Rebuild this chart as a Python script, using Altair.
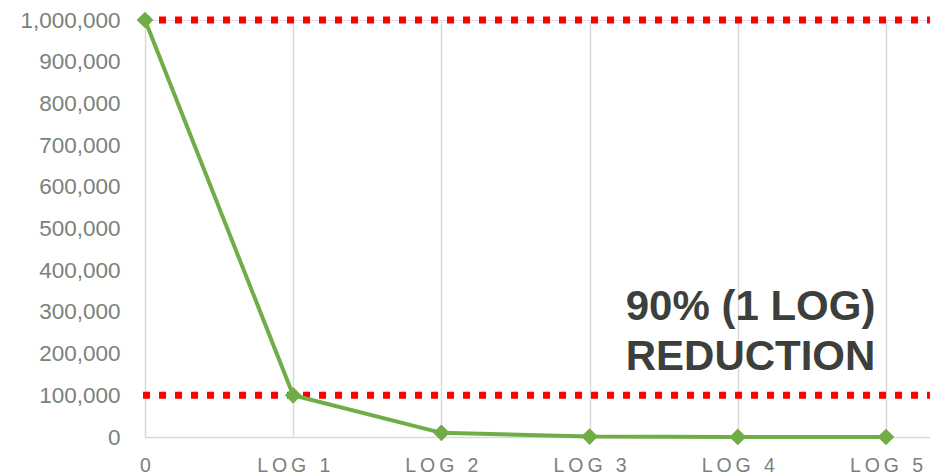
import altair as alt
import pandas as pd

categories = ["0", "LOG 1", "LOG 2", "LOG 3", "LOG 4", "LOG 5"]
values = [1000000, 100000, 10000, 1000, 100, 10]
ref_levels = [1000000, 100000]
annot_text = ["90% (1 LOG)", "REDUCTION"]
annot_x = 4.086
annot_y = 281000

df = pd.DataFrame({"idx": list(range(len(categories))), "cat": categories, "value": values})
ref_df = pd.DataFrame({"level": ref_levels})
ann_df = pd.DataFrame({"x": [annot_x], "y": [annot_y], "t": ["\n".join(annot_text)]})

FONT = "Liberation Sans"
GRAY = "#7a827a"

spaced = ["\u2009".join(c) for c in categories]
label_expr = "[" + ",".join("'" + s + "'" for s in spaced) + "][datum.value]"

xscale = alt.Scale(domain=[0, 5.297], nice=False, zero=False)
yscale = alt.Scale(domain=[0, 1000000], nice=False)

xaxis = alt.Axis(values=list(range(len(categories))), labelExpr=label_expr, title=None)
yaxis = alt.Axis(values=list(range(0, 1000001, 100000)), format=",.0f", title=None)

base = alt.Chart(df)

line = base.mark_line(color="#70ad47", strokeWidth=4).encode(
    x=alt.X("idx:Q", scale=xscale, axis=xaxis),
    y=alt.Y("value:Q", scale=yscale, axis=yaxis),
)

rules = alt.Chart(ref_df).mark_rule(color="#ff0000", strokeWidth=7, strokeDash=[7, 9]).encode(
    y=alt.Y("level:Q", scale=yscale, axis=yaxis),
    x=alt.value(-2),
    x2=alt.value(785),
)

pts = base.mark_point(shape="diamond", filled=True, color="#70ad47", size=280, opacity=1).encode(
    x=alt.X("idx:Q", scale=xscale, axis=xaxis),
    y=alt.Y("value:Q", scale=yscale, axis=yaxis),
)

ann = alt.Chart(ann_df).mark_text(font=FONT, fontSize=42, fontWeight="bold", color="#3d3f3d",
                                  align="center", baseline="alphabetic", lineBreak="\n",
                                  lineHeight=50).encode(
    x=alt.X("x:Q", scale=xscale, axis=xaxis),
    y=alt.Y("y:Q", scale=yscale, axis=yaxis),
    text="t:N",
)

chart = alt.layer(rules, line, pts, ann).properties(
    width=785, height=417,
    autosize=alt.AutoSizeParams(type="none"),
    padding={"left": 137, "top": 12, "right": 0, "bottom": 37},
).configure_view(stroke=None).configure(background="white").configure_axisX(
    ticks=False, domain=True, domainColor="#d9d9d9", domainWidth=1.5,
    grid=True, gridColor="#d9d9d9", gridWidth=1.5,
    labelFont=FONT, labelFontSize=19.5, labelColor=GRAY, labelPadding=19,
    labelAlign="center",
).configure_axisY(
    ticks=False, domain=False, grid=False,
    labelFont=FONT, labelFontSize=22.5, labelColor=GRAY, labelPadding=25,
)

chart.save("out.html", embed_options={"renderer": "svg", "actions": False})
